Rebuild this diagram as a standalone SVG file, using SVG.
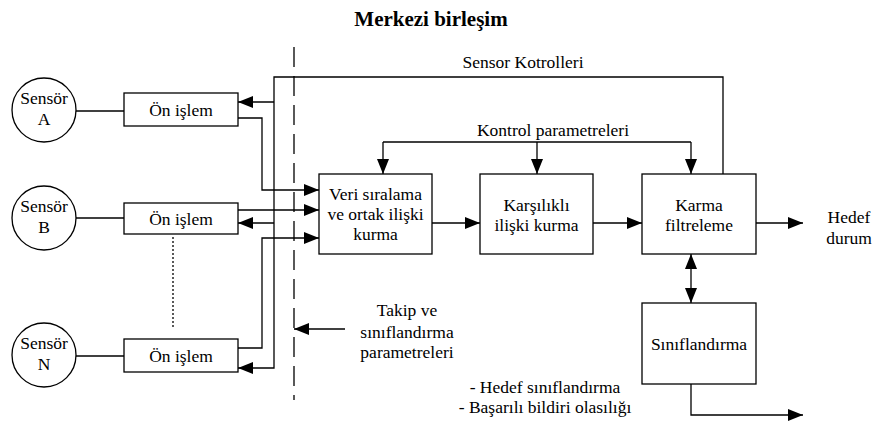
<svg xmlns="http://www.w3.org/2000/svg" width="872" height="423" viewBox="0 0 872 423">
  <style>
    text { font-family: "Liberation Serif", "Times New Roman", serif; font-size: 17.5px; fill: #000; text-anchor: middle; }
    .title { font-weight: bold; font-size: 21px; }
    .box { fill: #fff; stroke: #000; stroke-width: 1.3; }
    .wire { fill: none; stroke: #000; stroke-width: 1.3; }
    .arr { marker-end: url(#head); }
  </style>
  <defs>
    <marker id="head" markerUnits="userSpaceOnUse" markerWidth="16" markerHeight="12" refX="15" refY="6" orient="auto">
      <path d="M0,0 L15,6 L0,12 Z" fill="#000"/>
    </marker>
    <marker id="tail" markerUnits="userSpaceOnUse" markerWidth="16" markerHeight="12" refX="0" refY="6" orient="auto">
      <path d="M15,0 L0,6 L15,12 Z" fill="#000"/>
    </marker>
  </defs>

  <text class="title" x="431" y="26">Merkezi birleşim</text>

  <!-- connectors -->
  <g id="connectors">
    <!-- sensor to pre-processing -->
    <path class="wire" d="M76,111 H124"/>
    <path class="wire" d="M76,218 H124"/>
    <path class="wire" d="M76,356 H124"/>
    <!-- pre-processing outputs to alignment -->
    <path class="wire arr" d="M238,118 H262 V190 H319"/>
    <path class="wire arr" d="M238,210 H319"/>
    <path class="wire arr" d="M238,348 H262 V238 H319"/>
    <!-- sensor control feedback -->
    <path class="wire arr" d="M723,174 V77 H274 V368 H238"/>
    <path class="wire arr" d="M274,102 H238"/>
    <path class="wire arr" d="M274,223 H238"/>
    <!-- control parameters -->
    <path class="wire" d="M383,142 H691"/>
    <path class="wire arr" d="M383,142 V174"/>
    <path class="wire arr" d="M537,142 V174"/>
    <path class="wire arr" d="M691,142 V174"/>
    <!-- main chain -->
    <path class="wire arr" d="M432,223 H480"/>
    <path class="wire arr" d="M593,223 H642"/>
    <path class="wire arr" d="M756,223 H803"/>
    <!-- filter <-> classification -->
    <path class="wire" d="M691,254 V303" marker-start="url(#tail)" marker-end="url(#head)"/>
    <path class="wire arr" d="M691,384 V415 H803"/>
    <!-- tracking parameters -->
    <path class="wire arr" d="M345,329 H294"/>
    <!-- boundary and ellipsis -->
    <path class="wire" d="M294,47 V400" stroke-dasharray="20 9"/>
    <path class="wire" d="M173,237 V328" stroke-width="1" stroke-dasharray="2 2"/>
  </g>

  <!-- sensors -->
  <g id="sensorA">
    <circle class="box" cx="44" cy="110" r="32"/>
    <text x="44" y="104">Sensör</text>
    <text x="44" y="125">A</text>
  </g>
  <g id="sensorB">
    <circle class="box" cx="44" cy="218" r="32"/>
    <text x="44" y="212">Sensör</text>
    <text x="44" y="233">B</text>
  </g>
  <g id="sensorN">
    <circle class="box" cx="44" cy="355" r="32"/>
    <text x="44" y="349">Sensör</text>
    <text x="44" y="370">N</text>
  </g>

  <!-- pre-processing -->
  <g id="preA">
    <rect class="box" x="124" y="93" width="114" height="33"/>
    <text x="181" y="116">Ön işlem</text>
  </g>
  <g id="preB">
    <rect class="box" x="124" y="203" width="114" height="31"/>
    <text x="181" y="225">Ön işlem</text>
  </g>
  <g id="preN">
    <rect class="box" x="124" y="339" width="114" height="33"/>
    <text x="181" y="362">Ön işlem</text>
  </g>

  <!-- fusion blocks -->
  <g id="align">
    <rect class="box" x="319" y="174" width="113" height="80"/>
    <text x="375.5" y="200">Veri sıralama</text>
    <text x="375.5" y="220">ve ortak ilişki</text>
    <text x="375.5" y="240">kurma</text>
  </g>
  <g id="assoc">
    <rect class="box" x="480" y="174" width="113" height="80"/>
    <text x="536.5" y="211">Karşılıklı</text>
    <text x="536.5" y="231">ilişki kurma</text>
  </g>
  <g id="filter">
    <rect class="box" x="642" y="174" width="114" height="80"/>
    <text x="699" y="211">Karma</text>
    <text x="699" y="231">filtreleme</text>
  </g>
  <g id="classify">
    <rect class="box" x="642" y="303" width="114" height="81"/>
    <text x="699" y="350">Sınıflandırma</text>
  </g>

  <!-- labels -->
  <text x="523" y="68">Sensor Kotrolleri</text>
  <text x="553" y="136">Kontrol parametreleri</text>
  <text x="849" y="223">Hedef</text>
  <text x="849" y="244">durum</text>
  <text x="407" y="316">Takip ve</text>
  <text x="407" y="338">sınıflandırma</text>
  <text x="407" y="358">parametreleri</text>
  <text x="545" y="393">- Hedef sınıflandırma</text>
  <text x="545" y="413">- Başarılı bildiri olasılığı</text>
</svg>
